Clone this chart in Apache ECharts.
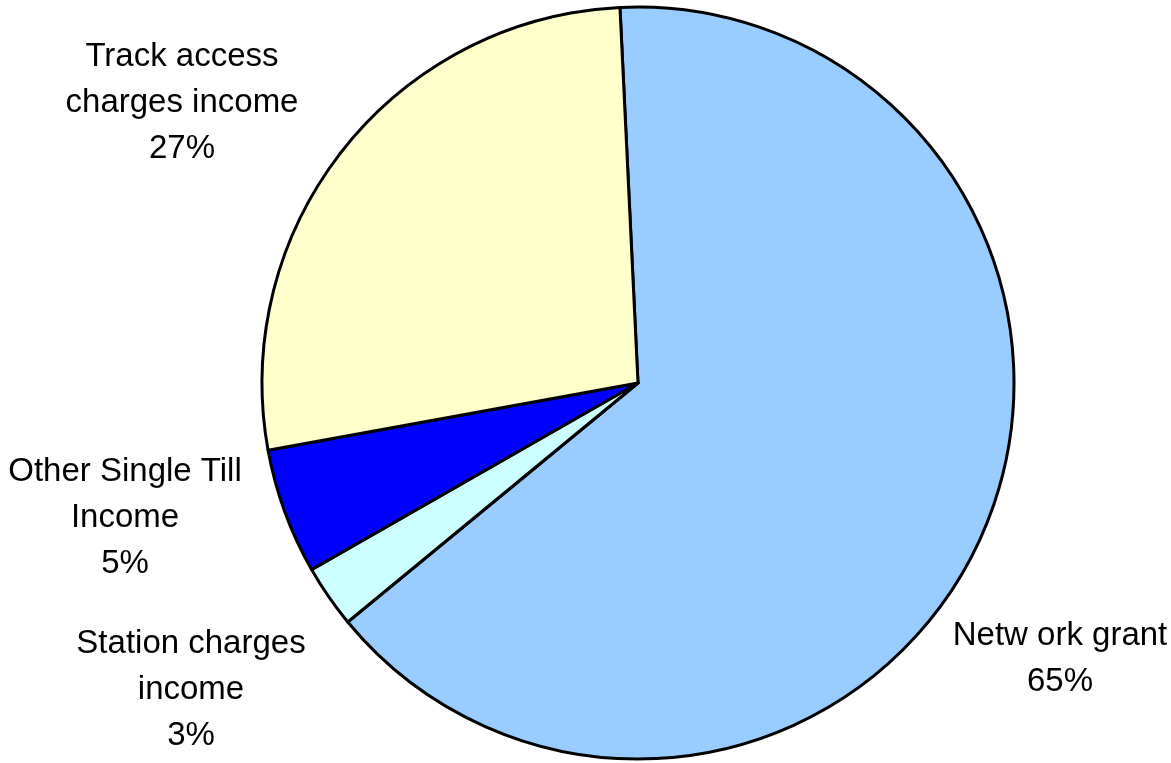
<!DOCTYPE html>
<html><head><meta charset="utf-8">
<script src="https://cdn.jsdelivr.net/npm/echarts@6/dist/echarts.min.js"></script>
<style>html,body{margin:0;padding:0;background:#fff}#c{width:1171px;height:763px}</style>
</head><body><div id="c"></div>
<script>
const categories = ["Netw ork grant", "Station charges\nincome", "Other Single Till\nIncome", "Track access\ncharges income"];
const values = [64.8, 2.7, 5.4, 27.1];
const colors = ["#99CCFF", "#CCFFFF", "#0000FF", "#FFFFCC"];
const labelPos = [[1060, 659], [191, 690], [125, 518], [182, 103]];

const chart = echarts.init(document.getElementById('c'));
chart.setOption({
  animation: false,
  series: [{
    type: 'pie',
    center: [638, 383],
    radius: 376,
    startAngle: 92.75,
    clockwise: true,
    data: categories.map((n, i) => ({name: n, value: values[i], itemStyle: {color: colors[i]}})),
    itemStyle: {borderColor: '#000', borderWidth: 3},
    label: {
      show: true,
      position: 'outside',
      formatter: p => p.name + '\n' + Math.round(p.percent) + '%',
      fontFamily: "'Liberation Sans', Arial, sans-serif",
      fontSize: 33,
      lineHeight: 46,
      color: '#000',
      align: 'center',
      overflow: 'none',
      width: 400
    },
    labelLine: {show: false},
    labelLayout: p => ({x: labelPos[p.dataIndex][0], y: labelPos[p.dataIndex][1], align: 'center', verticalAlign: 'middle'}),
    emphasis: {disabled: true}
  }]
});
</script></body></html>
